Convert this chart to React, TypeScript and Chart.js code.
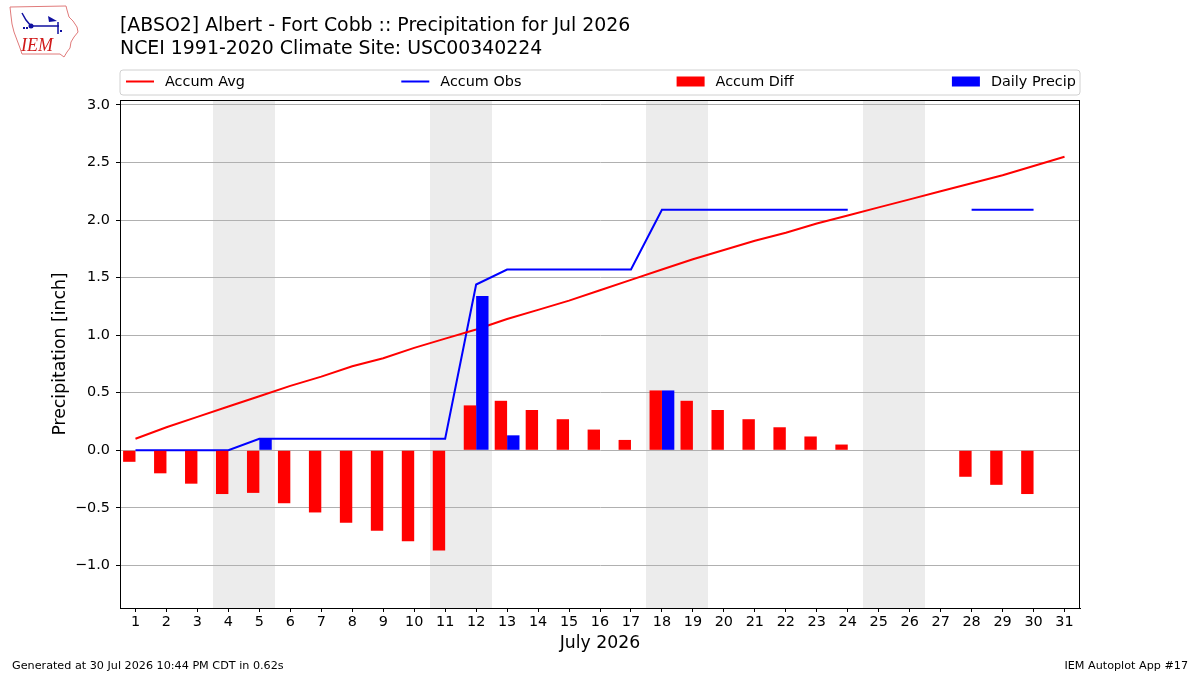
import React, { useEffect, useRef } from "react";
import { Chart, registerables } from "chart.js";

Chart.register(...registerables);

const dayLabels = ["1","2","3","4","5","6","7","8","9","10","11","12","13","14","15","16","17","18","19","20","21","22","23","24","25","26","27","28","29","30","31"];
const accumAvg = [0.10,0.20,0.29,0.38,0.47,0.56,0.64,0.73,0.80,0.89,0.97,1.05,1.14,1.22,1.30,1.39,1.48,1.57,1.66,1.74,1.82,1.89,1.97,2.04,2.11,2.18,2.25,2.32,2.39,2.47,2.55];
const accumObs = [0,0,0,0,0.10,0.10,0.10,0.10,0.10,0.10,0.10,1.44,1.57,1.57,1.57,1.57,1.57,2.09,2.09,2.09,2.09,2.09,2.09,2.09,null,null,null,2.09,2.09,2.09,null];
const accumDiff = [-0.10,-0.20,-0.29,-0.38,-0.37,-0.46,-0.54,-0.63,-0.70,-0.79,-0.87,0.39,0.43,0.35,0.27,0.18,0.09,0.52,0.43,0.35,0.27,0.20,0.12,0.05,null,null,null,-0.23,-0.30,-0.38,null];
const dailyPrecip = [0,0,0,0,0.10,0,0,0,0,0,0,1.34,0.13,0,0,0,0,0.52,0,0,0,0,0,0,null,null,null,0,0,0,null];
const weekendDays = ["4","5","11","12","18","19","25","26"];

const titleLines = [
  "[ABSO2] Albert - Fort Cobb :: Precipitation for Jul 2026",
  "NCEI 1991-2020 Climate Site: USC00340224",
];
const xAxisTitle = "July 2026";
const yAxisTitle = "Precipitation [inch]";
const footerLeft = "Generated at 30 Jul 2026 10:44 PM CDT in 0.62s";
const footerRight = "IEM Autoplot App #17";

const FONT = "'DejaVu Sans', sans-serif";
const TICK_SIZE = 14.4;
const AXIS_TITLE_SIZE = 17.3;

function drawLogo(ctx: CanvasRenderingContext2D) {
  ctx.save();
  ctx.strokeStyle = "#e07a7a";
  ctx.lineWidth = 1;
  const pts = [
    [10, 7], [66, 6], [67, 10], [69, 17], [73, 21], [77, 27], [78, 32], [74, 37],
    [71, 42], [70, 48], [67, 52], [64, 57], [60, 54], [22, 54], [20, 48], [17, 40],
    [14, 32], [12, 24], [11, 16],
  ];
  ctx.beginPath();
  pts.forEach((p, i) => (i === 0 ? ctx.moveTo(p[0], p[1]) : ctx.lineTo(p[0], p[1])));
  ctx.closePath();
  ctx.stroke();
  ctx.fillStyle = "#d01818";
  ctx.font = "italic 18px 'Liberation Serif', serif";
  ctx.textBaseline = "alphabetic";
  ctx.textAlign = "left";
  ctx.fillText("IEM", 21, 51);
  ctx.strokeStyle = "#1010a0";
  ctx.fillStyle = "#1010a0";
  ctx.lineWidth = 1.5;
  ctx.beginPath();
  ctx.moveTo(31, 26); ctx.lineTo(59, 26);
  ctx.moveTo(58, 22); ctx.lineTo(58, 34);
  ctx.moveTo(22, 13); ctx.lineTo(26, 20); ctx.lineTo(31, 26);
  ctx.stroke();
  ctx.beginPath(); ctx.arc(31, 26, 2.5, 0, Math.PI * 2); ctx.fill();
  ctx.beginPath(); ctx.moveTo(48, 16); ctx.lineTo(57, 21); ctx.lineTo(49, 22); ctx.closePath(); ctx.fill();
  ctx.fillRect(60, 30, 2, 2);
  ctx.fillRect(23, 27, 2, 2);
  ctx.fillRect(26, 27, 2, 2);
  ctx.restore();
}

const decorPlugin = {
  id: "decor",
  beforeDraw(chart: any) {
    const { ctx, chartArea, scales } = chart;
    const x = scales.x;
    const step = x.getPixelForValue(1) - x.getPixelForValue(0);
    ctx.save();
    ctx.fillStyle = "#ececec";
    weekendDays.forEach((d) => {
      const c = x.getPixelForValue(dayLabels.indexOf(d));
      const x0 = Math.round(c - step / 2);
      const x1 = Math.round(c + step / 2);
      ctx.fillRect(x0, chartArea.top, x1 - x0, chartArea.bottom - chartArea.top);
    });
    ctx.restore();
  },
  afterDraw(chart: any) {
    const { ctx, chartArea } = chart;
    const { left, top, right, bottom } = chartArea;
    ctx.save();
    // frame
    ctx.strokeStyle = "#000";
    ctx.lineWidth = 1;
    ctx.strokeRect(Math.round(left) + 0.5, Math.round(top) + 0.5, Math.round(right - left) - 1, Math.round(bottom - top));

    // titles
    ctx.fillStyle = "#000";
    ctx.textAlign = "left";
    ctx.textBaseline = "alphabetic";
    ctx.font = `18.9px ${FONT}`;
    ctx.fillText(titleLines[0], left, 31);
    ctx.fillText(titleLines[1], left, 54);

    // legend box
    const lx = left, ly = 70, lw = right - left, lh = 25, r = 3;
    ctx.beginPath();
    ctx.moveTo(lx + r, ly);
    ctx.lineTo(lx + lw - r, ly);
    ctx.quadraticCurveTo(lx + lw, ly, lx + lw, ly + r);
    ctx.lineTo(lx + lw, ly + lh - r);
    ctx.quadraticCurveTo(lx + lw, ly + lh, lx + lw - r, ly + lh);
    ctx.lineTo(lx + r, ly + lh);
    ctx.quadraticCurveTo(lx, ly + lh, lx, ly + lh - r);
    ctx.lineTo(lx, ly + r);
    ctx.quadraticCurveTo(lx, ly, lx + r, ly);
    ctx.closePath();
    ctx.fillStyle = "rgba(255,255,255,0.8)";
    ctx.fill();
    ctx.strokeStyle = "#d0d0d0";
    ctx.lineWidth = 1;
    ctx.stroke();

    const ds = chart.data.datasets;
    const colW = 275.3;
    const cy = ly + 11.5;
    ds.forEach((d: any, i: number) => {
      const hx = lx + 6 + i * colW;
      if (d.type === "line") {
        ctx.strokeStyle = d.borderColor;
        ctx.lineWidth = 2;
        ctx.beginPath();
        ctx.moveTo(hx, cy);
        ctx.lineTo(hx + 28, cy);
        ctx.stroke();
      } else {
        ctx.fillStyle = d.backgroundColor;
        ctx.fillRect(hx, cy - 5, 28, 10);
      }
      ctx.fillStyle = "#000";
      ctx.font = `${TICK_SIZE}px ${FONT}`;
      ctx.textBaseline = "middle";
      ctx.textAlign = "left";
      ctx.fillText(d.label, hx + 39, cy + 0.5);
    });

    // footer
    ctx.textBaseline = "alphabetic";
    ctx.font = `11.2px ${FONT}`;
    ctx.textAlign = "left";
    ctx.fillText(footerLeft, 12, 669);
    ctx.textAlign = "right";
    ctx.fillText(footerRight, 1188, 669);

    drawLogo(ctx);
    ctx.restore();
  },
};

export default function App() {
  const canvasRef = useRef<HTMLCanvasElement | null>(null);

  useEffect(() => {
    if (!canvasRef.current) return;
    const chart = new Chart(canvasRef.current, {
      type: "bar",
      data: {
        labels: dayLabels,
        datasets: [
          {
            type: "line",
            label: "Accum Avg",
            data: accumAvg,
            borderColor: "#ff0000",
            backgroundColor: "#ff0000",
            borderWidth: 2,
            pointRadius: 0,
            tension: 0,
            order: 1,
          },
          {
            type: "line",
            label: "Accum Obs",
            data: accumObs,
            borderColor: "#0000ff",
            backgroundColor: "#0000ff",
            borderWidth: 2,
            pointRadius: 0,
            tension: 0,
            spanGaps: false,
            order: 1,
          },
          {
            type: "bar",
            label: "Accum Diff",
            data: accumDiff,
            backgroundColor: "#ff0000",
            borderWidth: 0,
            categoryPercentage: 0.8,
            barPercentage: 1.0,
            order: 0,
          },
          {
            type: "bar",
            label: "Daily Precip",
            data: dailyPrecip,
            backgroundColor: "#0000ff",
            borderWidth: 0,
            categoryPercentage: 0.8,
            barPercentage: 1.0,
            order: 0,
          },
        ] as any,
      },
      options: {
        responsive: false,
        maintainAspectRatio: false,
        animation: false,
        devicePixelRatio: 1,
        layout: { padding: { left: 0, top: 100, right: 120, bottom: 0 } },
        plugins: {
          legend: { display: false },
          title: { display: false },
          tooltip: { enabled: false },
        },
        scales: {
          x: {
            type: "category",
            offset: true,
            grid: {
              display: true,
              drawOnChartArea: false,
              drawTicks: true,
              tickLength: 4,
              offset: false,
              color: "#000",
            },
            border: { display: true, color: "#000", width: 1 },
            ticks: {
              autoSkip: false,
              maxRotation: 0,
              padding: 2,
              color: "#000",
              font: { family: FONT, size: TICK_SIZE },
            },
            title: {
              display: true,
              text: xAxisTitle,
              color: "#000",
              font: { family: FONT, size: AXIS_TITLE_SIZE },
              padding: { top: 0, bottom: 21 },
            },
            afterFit: (scale: any) => {
              scale.height = 67;
            },
          },
          y: {
            type: "linear",
            min: -1.37,
            max: 3.043,
            grid: {
              color: "#b0b0b0",
              lineWidth: 1,
              tickColor: "#000",
              tickLength: 4,
            },
            border: { display: true, color: "#000", width: 1 },
            ticks: {
              stepSize: 0.5,
              includeBounds: false,
              padding: 6,
              color: "#000",
              font: { family: FONT, size: TICK_SIZE },
              callback: (v: any) => {
                const n = Number(v);
                if (Math.abs(n) < 1e-9) return "0.0";
                return (n < 0 ? "\u2212" : "") + Math.abs(n).toFixed(1);
              },
            },
            title: {
              display: true,
              text: yAxisTitle,
              color: "#000",
              font: { family: FONT, size: AXIS_TITLE_SIZE },
              padding: { top: 50, bottom: 0 },
            },
            afterFit: (scale: any) => {
              scale.width = 120;
            },
          },
        },
      } as any,
      plugins: [decorPlugin],
    });
    return () => chart.destroy();
  }, []);

  return (
    <div style={{ position: "fixed", left: 0, top: 0, width: 1200, height: 675, background: "#fff" }}>
      <canvas ref={canvasRef} width={1200} height={675} style={{ display: "block", width: 1200, height: 675 }} />
    </div>
  );
}
